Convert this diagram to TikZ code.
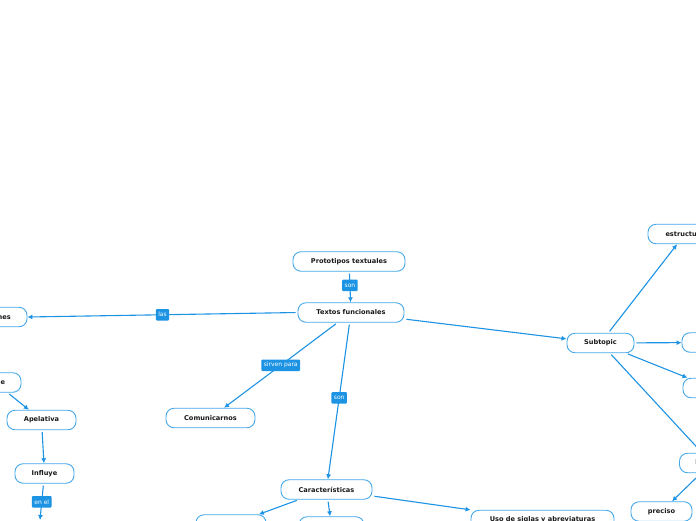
\documentclass[tikz,border=0pt]{standalone}
\usepackage{fontspec}
\setmainfont{DejaVu Sans}
\usetikzlibrary{arrows.meta}
\definecolor{lineblue}{HTML}{1C93E3}
\definecolor{boxblue}{HTML}{45A8EA}
\tikzset{
  topic/.style={draw=boxblue, line width=0.9pt, fill=white, rounded corners=8pt,
    minimum height=19.5pt, inner sep=2pt, font=\fontsize{6.6}{7}\selectfont\bfseries, text=black!90},
  conn/.style={draw=lineblue, line width=1.1pt, -{Latex[length=5pt,width=5pt]}, shorten <=2pt},
  lbl/.style={fill=lineblue, text=white, rounded corners=1pt, inner xsep=2.5pt, inner ysep=1.5pt,
    minimum height=11.5pt, font=\fontsize{6}{7}\selectfont}
}
\begin{document}
\begin{tikzpicture}[x=1pt,y=-1pt]
\useasboundingbox (0,0) rectangle (696,520);
\fill[white] (0,0) rectangle (696,520);
% nodes
\node[topic, minimum width=112pt] (proto) at (349,261.5) {Prototipos textuales};
\node[topic, minimum width=106pt] (textos) at (351,312.5) {Textos funcionales};
\node[topic, minimum width=70pt] (func) at (-8,317) {Funciones};
\node[topic, minimum width=52pt] (clase) at (-5,382.5) {Clase};
\node[topic, minimum width=69pt] (apel) at (41.5,420) {Apelativa};
\node[topic, minimum width=59pt] (influye) at (44.5,473.5) {Influye};
\coordinate (below) at (40,520);
\node[topic, minimum width=89pt] (comun) at (210.5,418) {Comunicarnos};
\node[topic, minimum width=91pt] (carac) at (326.5,489.5) {Características};
\node[topic, minimum width=70pt] (lowleft) at (231,524.5) {};
\node[topic, minimum width=65pt] (lowmid) at (331.5,526.5) {};
\node[topic, minimum width=143pt] (uso) at (542.5,520) {Uso de siglas y abreviaturas};
\node[topic, minimum width=67pt] (sub) at (600.5,343) {Subtopic};
\node[topic, minimum width=74pt] (estr) at (685,234) {estructura};
\node[topic, minimum width=60pt] (r1) at (712,342.5) {};
\node[topic, minimum width=60pt] (r2) at (713,388) {};
\node[topic, minimum width=64pt] (leng) at (711.5,463) {lenguaje};
\node[topic, minimum width=61pt] (prec) at (661.5,511.5) {preciso};
% connectors
\draw[conn] (proto) -- node[lbl, pos=0.45]{son} (textos);
\draw[conn] (textos.west) -- node[lbl, pos=0.50]{las} (func.east);
\draw[conn] (textos) -- node[lbl, pos=0.5]{sirven para} (comun);
\draw[conn] (textos) -- node[lbl, pos=0.48]{son} (carac);
\draw[conn] (textos) -- (sub);
\draw[conn] (sub) -- (estr);
\draw[conn] (sub) -- (r1);
\draw[conn] (sub) -- (r2);
\draw[conn] (sub) -- (leng);
\draw[conn] (leng) -- (prec);
\draw[conn] (clase) -- (apel);
\draw[conn] (apel) -- (influye);
\draw[conn] (influye) -- node[lbl, pos=0.5]{en el} (below);
\draw[conn] (carac) -- (lowleft);
\draw[conn] (carac) -- (lowmid);
\draw[conn] (carac) -- (uso);
\end{tikzpicture}
\end{document}
